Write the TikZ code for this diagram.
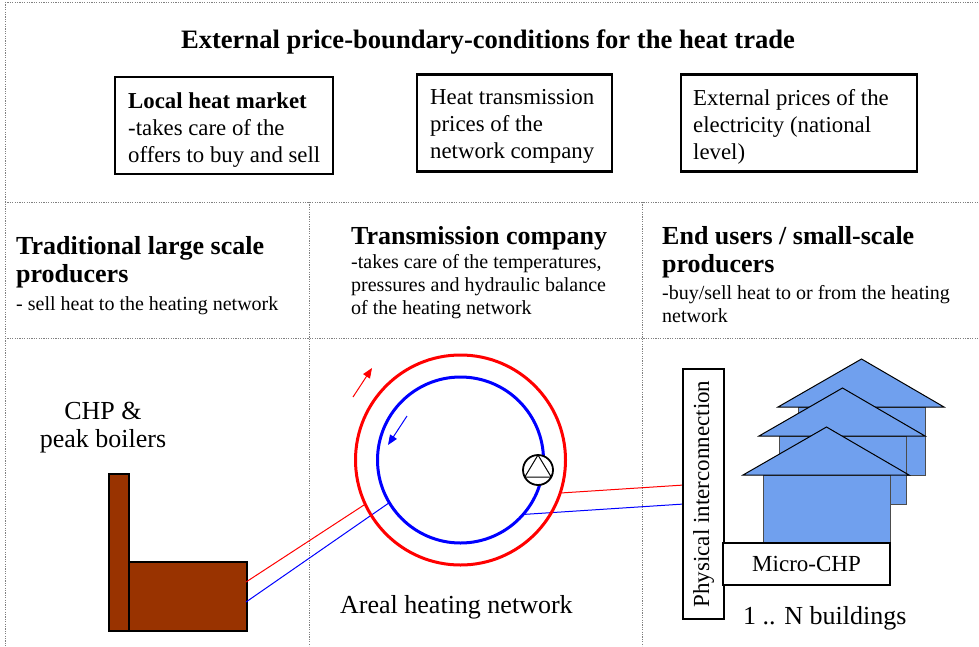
\documentclass[tikz,border=0pt]{standalone}
\usepackage{fontspec}
\setmainfont{Liberation Serif}
\usetikzlibrary{arrows.meta}

\definecolor{brick}{RGB}{153,51,0}
\definecolor{houseblue}{RGB}{112,160,238}

% font sizes (picture is drawn in 1pt units)
\newcommand{\titlefont}{\fontsize{26.6}{30}\selectfont\bfseries}
\newcommand{\boxfont}{\fontsize{22.8}{27}\selectfont}
\newcommand{\headfont}{\fontsize{26}{27.5}\selectfont\bfseries}
\newcommand{\notefont}{\fontsize{20}{23}\selectfont}
\newcommand{\labelfont}{\fontsize{26}{28}\selectfont}
\newcommand{\tagfont}{\fontsize{23}{26}\selectfont}

\begin{document}
\begin{tikzpicture}[x=1pt, y=-1pt,
  sep/.style={draw=gray, line width=0.8pt, dash pattern=on 1.2pt off 1.2pt},
  pricebox/.style={draw, line width=2.4pt, minimum height=97pt, inner sep=0pt},
  boxtext/.style={anchor=base west, inner sep=0pt, align=left, font=\boxfont},
  head/.style={anchor=base west, inner sep=0pt, align=left, font=\headfont},
  note/.style={anchor=base west, inner sep=0pt, align=left, font=\notefont},
  caption/.style={inner sep=0pt, font=\labelfont},
  plant/.style={draw, line width=1.8pt, fill=brick, inner sep=0pt, anchor=south west},
  pipe/.style={circle, line width=3pt, inner sep=0pt},
  hot/.style={red, line width=1pt},
  cold/.style={blue, line width=1pt},
  flow/.style={line width=1pt, -{Triangle[length=10pt,width=8pt]}},
  tag/.style={draw, line width=2.4pt, fill=white, inner sep=0pt, font=\tagfont},
  wall/.style={draw=black!70, fill=houseblue, line width=1pt},
  roof/.style={draw=black, fill=houseblue, line width=1pt}]

\useasboundingbox (0,0) rectangle (979,646);

% dotted frame and the three columns
\draw[sep] (5,2) -- (979,2);
\draw[sep] (5,2) -- (5,646);
\draw[sep] (5,202) -- (979,202);
\draw[sep] (5,338) -- (979,338);
\draw[sep] (309,202) -- (309,646);
\draw[sep] (642,202) -- (642,646);

% price conditions
\node[anchor=base, inner sep=0pt, font=\titlefont] (title) at (488,48)
  {External price-boundary-conditions for the heat trade};

\node[pricebox, minimum width=218pt] (market) at (224,125.5) {};
\node[boxtext] (market text) at (128,162)
  {\textbf{Local heat market}\\-takes care of the\\offers to buy and sell};
\node[pricebox, minimum width=195pt] (tariff) at (514.5,123) {};
\node[boxtext] (tariff text) at (430,158)
  {Heat transmission\\prices of the\\network company};
\node[pricebox, minimum width=236pt] (elprice) at (799,123) {};
\node[boxtext] (elprice text) at (693,159)
  {External prices of the\\electricity (national\\level)};

% actors
\node[head] (producers) at (16,282) {Traditional large scale\\producers};
\node[note] (producers note) at (16,310) {- sell heat to the heating network};

\node[head] (company) at (351,244) {Transmission company};
\node[note] (company note) at (351,314)
  {-takes care of the temperatures,\\pressures and hydraulic balance\\of the heating network};

\node[head] (users) at (662,272) {End users / small-scale\\producers};
\node[note] (users note) at (662,322) {-buy/sell heat to or from the heating\\network};

% CHP plant
\node[caption, align=center, anchor=base] (plant name) at (103,447) {CHP \&\\peak boilers};
\node[plant, minimum width=20pt, minimum height=157pt] (chimney) at (108,632) {};
\node[plant, minimum width=118pt, minimum height=69pt] (boiler) at (128,632) {};
\coordinate (boiler hot) at (246,582);
\coordinate (boiler cold) at (246,602);

% areal network: supply ring, return loop and pump
\node[pipe, minimum size=210pt] (ring) at (460.5,460) {};
\node[pipe, minimum size=166pt] (loop) at (460.5,460) {};
\coordinate (phys hot) at (684,485);
\coordinate (phys cold) at (684,504);

\draw[hot] (boiler hot) -- (ring.205);
\draw[cold] (boiler cold) -- (loop.211);
\draw[hot] (ring.-18) -- (phys hot);
\draw[cold] (loop.-40) -- (phys cold);

\draw[red, line width=3pt] (ring) circle (105);
\draw[blue, line width=3pt] (loop) circle (83);
\draw[red, flow] (353,397) -- (372,368);
\draw[blue, flow] (407,416) -- (388,445);

\node[circle, draw, line width=1.8pt, fill=white, minimum size=30pt, inner sep=0pt, outer sep=0pt] (pump) at (538,470) {};
\draw[line width=1pt] (pump.-152) -- (pump.90) -- (pump.-28) -- cycle;

\node[caption, anchor=base west] (network name) at (340,613) {Areal heating network};

% buildings, back to front
\foreach \dx/\dy in {35/-68, 16/-39, 0/0} {
  \begin{scope}[shift={(\dx,\dy)}]
    \draw[wall] (763,475) rectangle (890,543);
    \draw[roof] (743,475) -- (826.5,427) -- (909,475) -- cycle;
  \end{scope}
}

\node[tag, rotate=90, minimum width=250pt, minimum height=41pt] (phys) at (703.5,494) {Physical interconnection};
\node[tag, minimum width=167pt, minimum height=42pt] (chp) at (806.5,564) {Micro-CHP};
\node[caption, anchor=base west] (buildings) at (743,624) {1 .. N buildings};
\end{tikzpicture}
\end{document}
